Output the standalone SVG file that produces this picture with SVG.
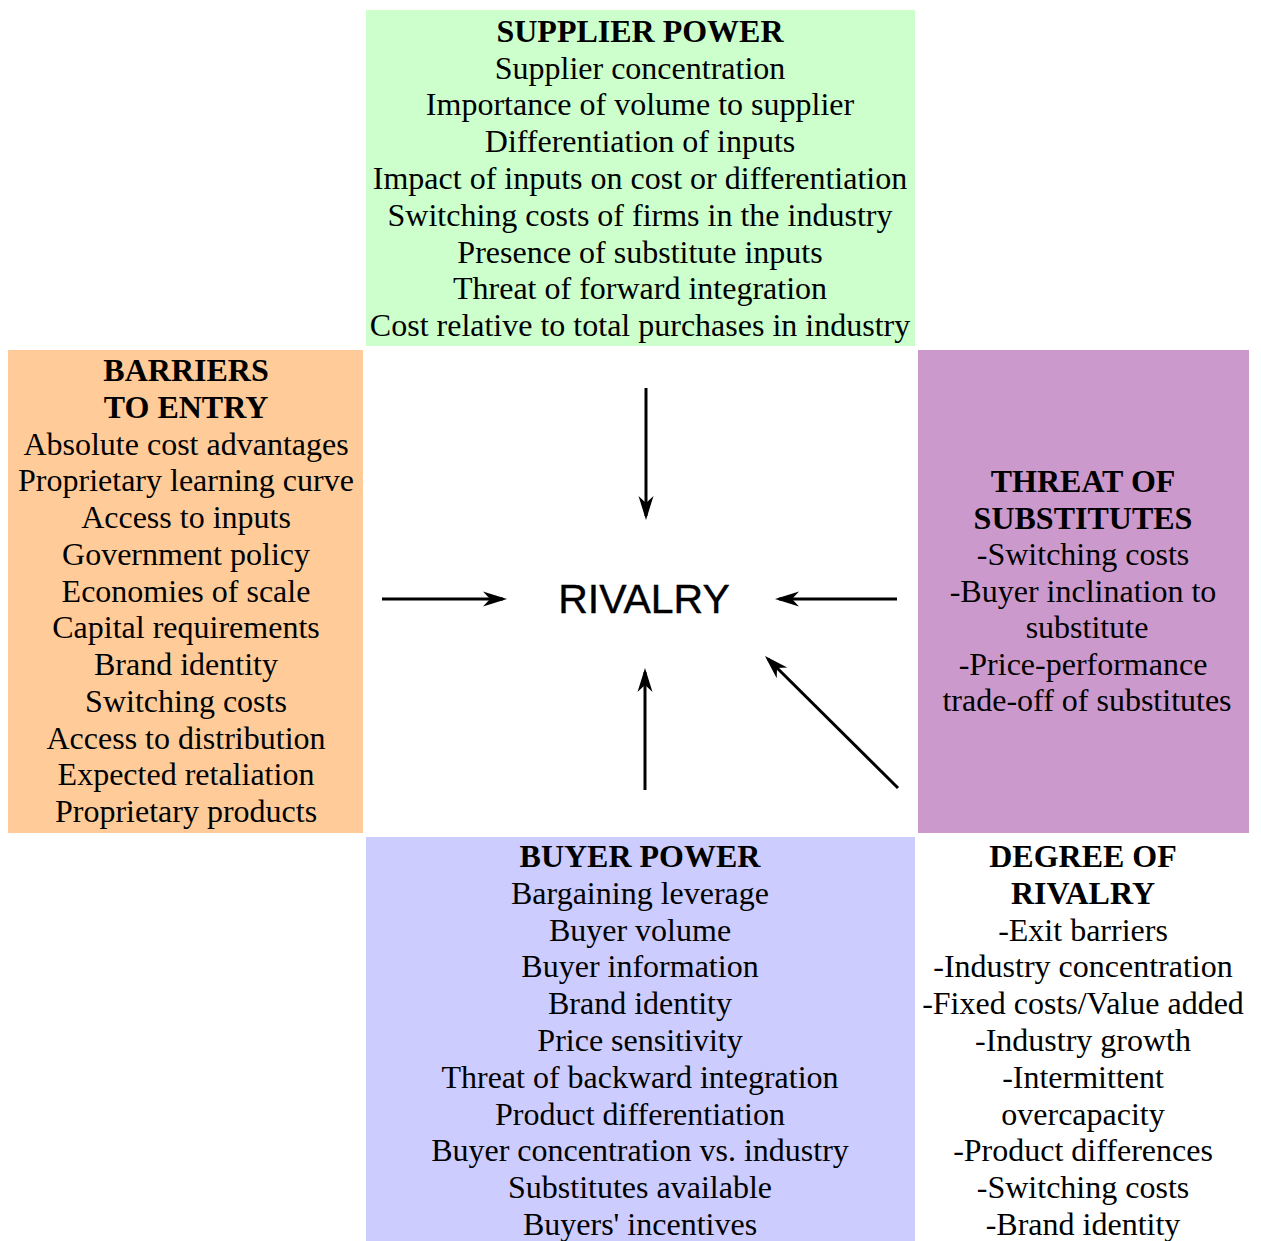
<svg xmlns="http://www.w3.org/2000/svg" width="1261" height="1241" viewBox="0 0 1261 1241">
  <style>
    .t { font-family: "Liberation Serif", "Times New Roman", serif; font-size: 32px; fill: #000; text-anchor: middle; }
    .h { font-weight: bold; }
    .riv { font-family: "Liberation Sans", Arial, sans-serif; font-size: 41px; fill: #000; stroke: #000; stroke-width: 0.4; text-anchor: middle; }
    .arr { stroke: #000; stroke-width: 3; fill: none; marker-end: url(#ah); }
  </style>
  <defs>
    <marker id="ah" viewBox="-26 -9 28 18" refX="-4" refY="0" markerWidth="28" markerHeight="18" markerUnits="userSpaceOnUse" orient="auto">
      <path d="M0,0 L-24,-7.5 L-17,0 L-24,7.5 Z" fill="#000"/>
    </marker>
  </defs>
  <rect width="1261" height="1241" fill="#fff"/>

  <g id="supplier-power">
    <rect x="366" y="10" width="549" height="336" fill="#ccffcc"/>
    <text class="t h" x="640" y="42">SUPPLIER POWER</text>
    <text class="t" x="640" y="78.5">Supplier concentration</text>
    <text class="t" x="640" y="115.3">Importance of volume to supplier</text>
    <text class="t" x="640" y="152.1">Differentiation of inputs</text>
    <text class="t" x="640" y="188.9">Impact of inputs on cost or differentiation</text>
    <text class="t" x="640" y="225.7">Switching costs of firms in the industry</text>
    <text class="t" x="640" y="262.5">Presence of substitute inputs</text>
    <text class="t" x="640" y="299.3">Threat of forward integration</text>
    <text class="t" x="640" y="336.1">Cost relative to total purchases in industry</text>
  </g>

  <g id="barriers-to-entry">
    <rect x="8" y="350" width="355" height="483" fill="#ffcc99"/>
    <text class="t h" x="186" y="381">BARRIERS</text>
    <text class="t h" x="186" y="417.8">TO ENTRY</text>
    <text class="t" x="186" y="454.5">Absolute cost advantages</text>
    <text class="t" x="186" y="491.3">Proprietary learning curve</text>
    <text class="t" x="186" y="528">Access to inputs</text>
    <text class="t" x="186" y="564.8">Government policy</text>
    <text class="t" x="186" y="601.5">Economies of scale</text>
    <text class="t" x="186" y="638.3">Capital requirements</text>
    <text class="t" x="186" y="675">Brand identity</text>
    <text class="t" x="186" y="711.8">Switching costs</text>
    <text class="t" x="186" y="748.5">Access to distribution</text>
    <text class="t" x="186" y="785.3">Expected retaliation</text>
    <text class="t" x="186" y="822">Proprietary products</text>
  </g>

  <g id="threat-of-substitutes">
    <rect x="918" y="350" width="331" height="483" fill="#cc99cc"/>
    <text class="t h" x="1083" y="492">THREAT OF</text>
    <text class="t h" x="1083" y="528.5">SUBSTITUTES</text>
    <text class="t" x="1083" y="565">-Switching costs</text>
    <text class="t" x="1083" y="601.5">-Buyer inclination to</text>
    <text class="t" x="1087" y="638">substitute</text>
    <text class="t" x="1083" y="674.5">-Price-performance</text>
    <text class="t" x="1087" y="711">trade-off of substitutes</text>
  </g>

  <g id="buyer-power">
    <rect x="366" y="837" width="549" height="404" fill="#ccccff"/>
    <text class="t h" x="640" y="867">BUYER POWER</text>
    <text class="t" x="640" y="903.8">Bargaining leverage</text>
    <text class="t" x="640" y="940.6">Buyer volume</text>
    <text class="t" x="640" y="977.4">Buyer information</text>
    <text class="t" x="640" y="1014.2">Brand identity</text>
    <text class="t" x="640" y="1051">Price sensitivity</text>
    <text class="t" x="640" y="1087.8">Threat of backward integration</text>
    <text class="t" x="640" y="1124.6">Product differentiation</text>
    <text class="t" x="640" y="1161.4">Buyer concentration vs. industry</text>
    <text class="t" x="640" y="1198.2">Substitutes available</text>
    <text class="t" x="640" y="1235">Buyers' incentives</text>
  </g>

  <g id="degree-of-rivalry">
    <text class="t h" x="1083" y="867">DEGREE OF</text>
    <text class="t h" x="1083" y="903.8">RIVALRY</text>
    <text class="t" x="1083" y="940.6">-Exit barriers</text>
    <text class="t" x="1083" y="977.4">-Industry concentration</text>
    <text class="t" x="1083" y="1014.2">-Fixed costs/Value added</text>
    <text class="t" x="1083" y="1051">-Industry growth</text>
    <text class="t" x="1083" y="1087.8">-Intermittent</text>
    <text class="t" x="1083" y="1124.6">overcapacity</text>
    <text class="t" x="1083" y="1161.4">-Product differences</text>
    <text class="t" x="1083" y="1198.2">-Switching costs</text>
    <text class="t" x="1083" y="1235">-Brand identity</text>
  </g>

  <g id="rivalry">
    <text class="riv" x="644" y="613">RIVALRY</text>
  </g>

  <g id="connectors">
    <line class="arr" x1="646" y1="388" x2="646" y2="516"/>
    <line class="arr" x1="382" y1="599" x2="503" y2="599"/>
    <line class="arr" x1="897" y1="599" x2="779" y2="599"/>
    <line class="arr" x1="645" y1="790" x2="645" y2="672"/>
    <line class="arr" x1="898" y1="788" x2="767.8" y2="658.8"/>
  </g>
</svg>
